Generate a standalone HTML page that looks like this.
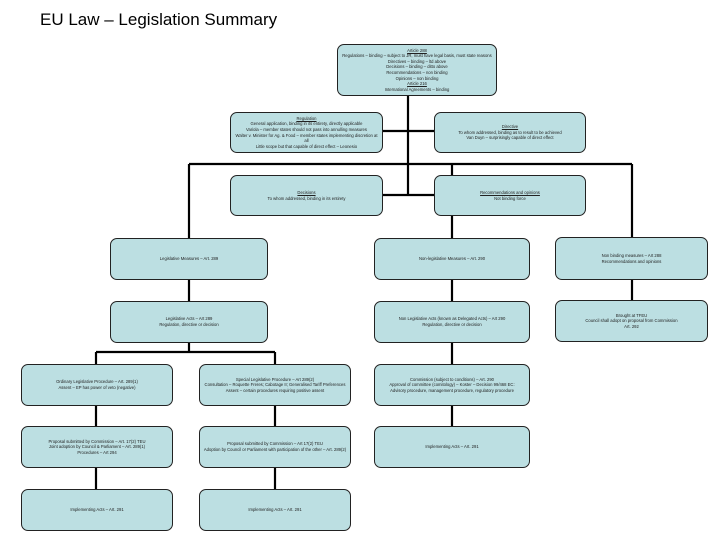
<!DOCTYPE html>
<html><head><meta charset="utf-8"><style>
body{margin:0;width:728px;height:546px;background:#fff;position:relative;overflow:hidden;font-family:"Liberation Sans",sans-serif}
h1{position:absolute;left:40px;top:10px;margin:0;font-size:17px;font-weight:normal;color:#000}
.b{position:absolute;background:#bcdfe2;border:1.3px solid #222;border-radius:7px;box-sizing:border-box;display:flex;flex-direction:column;justify-content:center;align-items:center;text-align:center;font-size:4.2px;line-height:5.6px;color:#222;padding:1px 3px}
u{text-decoration:underline}
svg{position:absolute;left:0;top:0}
</style></head><body>
<h1>EU Law – Legislation Summary</h1>
<svg width="728" height="546"><g stroke="#000" stroke-width="2.2" fill="none">
<line x1="408" y1="96" x2="408" y2="196"/>
<line x1="383" y1="131" x2="434" y2="131"/>
<line x1="383" y1="195" x2="434" y2="195"/>
<line x1="189" y1="164" x2="632" y2="164"/>
<line x1="189" y1="164" x2="189" y2="238"/>
<line x1="452" y1="164" x2="452" y2="238"/>
<line x1="632" y1="164" x2="632" y2="238"/>
<line x1="189" y1="280" x2="189" y2="352"/>
<line x1="96" y1="352" x2="275" y2="352"/>
<line x1="96" y1="352" x2="96" y2="364"/>
<line x1="275" y1="352" x2="275" y2="364"/>
<line x1="96" y1="406" x2="96" y2="490"/>
<line x1="275" y1="406" x2="275" y2="490"/>
<line x1="452" y1="280" x2="452" y2="427"/>
<line x1="632" y1="280" x2="632" y2="301"/>
</g></svg>
<div class="b" style="left:337px;top:44px;width:160px;height:52px"><u>Article 288</u>Regulations – binding – subject to JR, must have legal basis, must state reasons<br>Directives – binding – ltd above<br>Decisions – binding – ditto above<br>Recommendations – non binding<br>Opinions – non binding<br><u>Article 216</u>International Agreements – binding</div>
<div class="b" style="left:230px;top:112px;width:153px;height:41px"><u>Regulation</u>General application, binding in its entirety, directly applicable<br>Variola – member states should not pass into annulling measures<br>Walter v. Minister for Ag. &amp; Food – member states implementing discretion at<br>all<br>Little scope but that capable of direct effect – Leonesio</div>
<div class="b" style="left:434px;top:112px;width:152px;height:41px"><u>Directive</u>To whom addressed, binding as to result to be achieved<br>Van Duyn – surprisingly capable of direct effect</div>
<div class="b" style="left:230px;top:175px;width:153px;height:41px"><u>Decisions</u>To whom addressed, binding in its entirety</div>
<div class="b" style="left:434px;top:175px;width:152px;height:41px"><u>Recommendations and opinions</u>Not binding force</div>
<div class="b" style="left:110px;top:238px;width:158px;height:42px">Legislative Measures – Art. 289</div>
<div class="b" style="left:374px;top:238px;width:156px;height:42px">Non-legislative Measures – Art. 290</div>
<div class="b" style="left:555px;top:237px;width:153px;height:43px">Non binding measures – Art 288<br>Recommendations and opinions</div>
<div class="b" style="left:110px;top:301px;width:158px;height:42px">Legislative Acts – Art 289<br>Regulation, directive or decision</div>
<div class="b" style="left:374px;top:301px;width:156px;height:42px">Non Legislative Acts (known as Delegated Acts) – Art 290<br>Regulation, directive or decision</div>
<div class="b" style="left:555px;top:300px;width:153px;height:42px">Brought at TFEU<br>Council shall adopt on proposal from Commission<br>Art. 292</div>
<div class="b" style="left:21px;top:364px;width:152px;height:42px">Ordinary Legislative Procedure – Art. 289(1)<br>Assent – EP has power of veto (negative)</div>
<div class="b" style="left:199px;top:364px;width:152px;height:42px">Special Legislative Procedure – Art 289(2)<br>Consultation – Roquette Freres; Cabotage II; Generalised Tariff Preferences<br>Assent – certain procedures requiring positive assent</div>
<div class="b" style="left:374px;top:364px;width:156px;height:42px">Commission (subject to conditions) – Art. 290<br>Approval of committee (comitology) – Koster – Decision 99/468 EC:<br>Advisory procedure, management procedure, regulatory procedure</div>
<div class="b" style="left:21px;top:426px;width:152px;height:42px">Proposal submitted by Commission – Art. 17(2) TEU<br>Joint adoption by Council &amp; Parliament – Art. 289(1)<br>Procedures – Art 294</div>
<div class="b" style="left:199px;top:426px;width:152px;height:42px">Proposal submitted by Commission – Art 17(2) TEU<br>Adoption by Council or Parliament with participation of the other – Art. 289(2)</div>
<div class="b" style="left:374px;top:426px;width:156px;height:42px">Implementing Acts – Art. 291</div>
<div class="b" style="left:21px;top:489px;width:152px;height:42px">Implementing Acts – Art. 291</div>
<div class="b" style="left:199px;top:489px;width:152px;height:42px">Implementing Acts – Art. 291</div>
</body></html>
